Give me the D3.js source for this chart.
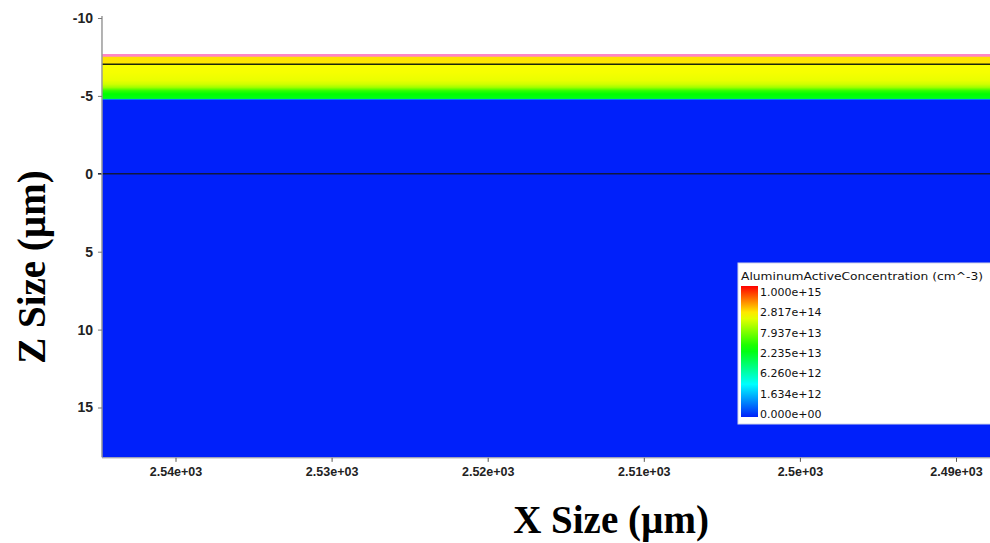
<!DOCTYPE html>
<html>
<head>
<meta charset="utf-8">
<script src="https://cdn.jsdelivr.net/npm/d3@7/dist/d3.min.js"></script>
<style>
  html, body { margin: 0; padding: 0; background: #fff; }
  svg { display: block; }
</style>
</head>
<body>
<svg id="chart" width="990" height="543"></svg>
<script>
// Axis ticks
const xTicks = [2540, 2530, 2520, 2510, 2500, 2490];
const xTickLabels = ["2.54e+03", "2.53e+03", "2.52e+03", "2.51e+03", "2.5e+03", "2.49e+03"];
const zTicks = [-10, -5, 0, 5, 10, 15];
const zTickLabels = ["-10", "-5", "0", "5", "10", "15"];

// Colour legend (top to bottom)
const legendValues = [1e15, 2.817e14, 7.937e13, 2.235e13, 6.26e12, 1.634e12, 0];
const legendLabels = ["1.000e+15", "2.817e+14", "7.937e+13", "2.235e+13", "6.260e+12", "1.634e+12", "0.000e+00"];

// Active Al concentration (cm^-3) versus depth z (µm)
const profileDepth = [-7.58, -7.06, -7.02, -6.5, -6.0, -5.75, -5.55, -5.33, -5.12, -4.84, -4.79, -4.74];
const profileConc  = [2.3e14, 2.2e14, 1.8e14, 1.75e14, 1.6e14, 1.3e14, 9e13, 3.7e13, 2.6e13, 2.2e13, 1.6e12, 0];

// Material boundaries (µm)
const surfaceZ = -7.6;
const interfaceZ = -7.03;
const referenceZ = 0;

// Domain extents
const xDomain = [2544.71, 2487.82];
const zDomain = [-10, 18.2];

const svg = d3.select("#chart");

const x = d3.scaleLinear().domain([2540, 2490]).range([175.5, 956]);
const z = d3.scaleLinear().domain([-10, 15]).range([18, 407.5]);

// Colour map: fraction along colorbar (0 top .. 1 bottom) -> rainbow
const rainbow = d3.scaleLinear()
  .domain([0, 0.22, 0.48, 0.75, 1])
  .range(["#ff0000", "#ffff00", "#00ff00", "#00ffff", "#0020fa"])
  .interpolate(d3.interpolateRgb);

// Concentration -> fraction: log-spaced between labelled values, linear below the lowest
const n = legendValues.length - 1;
const logPart = d3.scaleLinear()
  .domain(legendValues.slice(0, n).map(v => Math.log10(v)).reverse())
  .range(d3.range(n).map(i => i / n).reverse())
  .clamp(true);
function concToT(v) {
  const low = legendValues[n - 1];
  if (v <= 0) return 1;
  if (v < low) return 1 - (v / low) * (1 / n);
  return logPart(Math.log10(v));
}
const color = v => rainbow(concToT(v));

// Plot area
const x0 = x(xDomain[0]), x1 = x(xDomain[1]);
const zTopPx = z(surfaceZ), zBotPx = z(zDomain[1]);

const defs = svg.append("defs");
const grad = defs.append("linearGradient")
  .attr("id", "profile")
  .attr("gradientUnits", "userSpaceOnUse")
  .attr("x1", 0).attr("x2", 0)
  .attr("y1", zTopPx).attr("y2", zBotPx);
profileDepth.forEach((d, i) => {
  grad.append("stop")
    .attr("offset", (z(d) - zTopPx) / (zBotPx - zTopPx))
    .attr("stop-color", color(profileConc[i]));
});

svg.append("rect")
  .attr("x", x0).attr("y", zTopPx)
  .attr("width", x1 - x0).attr("height", zBotPx - zTopPx)
  .attr("fill", "url(#profile)");

// Boundary lines
svg.append("line")
  .attr("x1", x0).attr("x2", x1)
  .attr("y1", z(surfaceZ)).attr("y2", z(surfaceZ))
  .attr("stroke", "#ff86c6").attr("stroke-width", 2.6);
svg.append("line")
  .attr("x1", x0).attr("x2", x1)
  .attr("y1", z(interfaceZ)).attr("y2", z(interfaceZ))
  .attr("stroke", "#1c2608").attr("stroke-width", 1.6);
svg.append("line")
  .attr("x1", x0 - 4).attr("x2", x1)
  .attr("y1", z(referenceZ)).attr("y2", z(referenceZ))
  .attr("stroke", "#101840").attr("stroke-width", 1.4);

// Axes
const xAxis = d3.axisBottom(x).tickValues(xTicks)
  .tickFormat((d, i) => xTickLabels[i]).tickSize(4).tickPadding(5);
const gx = svg.append("g").attr("transform", `translate(0,${zBotPx + 0.5})`).call(xAxis);
gx.select(".domain").attr("d", `M${x0},0H${x1}`).attr("stroke", "#9a9a9a");
gx.selectAll(".tick line").attr("stroke", "#555");
gx.selectAll(".tick text")
  .attr("font-family", "Liberation Sans, Arial, sans-serif")
  .attr("font-weight", "bold").attr("font-size", 12.5).attr("fill", "#222");

const zAxis = d3.axisLeft(z).tickValues(zTicks)
  .tickFormat((d, i) => zTickLabels[i]).tickSize(4).tickPadding(5);
const gz = svg.append("g").attr("transform", `translate(${x0},0)`).call(zAxis);
gz.select(".domain").attr("d", `M0,${z(-10) - 2}V${zBotPx}`).attr("stroke", "#9a9a9a").attr("stroke-width", 1.5);
gz.selectAll(".tick line").attr("stroke", "#777");
gz.selectAll(".tick text")
  .attr("font-family", "Liberation Sans, Arial, sans-serif")
  .attr("font-weight", "bold").attr("font-size", 14).attr("fill", "#222");

// Axis titles
svg.append("text")
  .attr("x", 611).attr("y", 533)
  .attr("text-anchor", "middle")
  .attr("font-family", "Liberation Serif, Times New Roman, serif")
  .attr("font-weight", "bold").attr("font-size", 39).attr("fill", "#000")
  .text("X Size (µm)");
svg.append("text")
  .attr("transform", "translate(45,267) rotate(-90)")
  .attr("text-anchor", "middle")
  .attr("font-family", "Liberation Serif, Times New Roman, serif")
  .attr("font-weight", "bold").attr("font-size", 39).attr("fill", "#000")
  .text("Z Size (µm)");

// Legend
const lg = svg.append("g");
lg.append("rect")
  .attr("x", 738).attr("y", 263).attr("width", 260).attr("height", 161)
  .attr("fill", "#fff").attr("stroke", "#d0d4e8").attr("stroke-width", 1);
lg.append("text")
  .attr("x", 741).attr("y", 280)
  .attr("font-family", "DejaVu Sans, Verdana, sans-serif")
  .attr("font-size", 11).attr("fill", "#111")
  .attr("textLength", 242).attr("lengthAdjust", "spacingAndGlyphs")
  .text("AluminumActiveConcentration (cm^-3)");

const barTop = 286, barBot = 417;
const cgrad = defs.append("linearGradient")
  .attr("id", "cbar").attr("x1", 0).attr("x2", 0).attr("y1", 0).attr("y2", 1);
d3.range(0, 1.0001, 0.05).forEach(t => {
  cgrad.append("stop").attr("offset", t).attr("stop-color", rainbow(t));
});
lg.append("rect")
  .attr("x", 741).attr("y", barTop).attr("width", 17).attr("height", barBot - barTop)
  .attr("fill", "url(#cbar)");

const ly = d3.scalePoint().domain(legendLabels).range([barTop + 6, barBot - 3]);
lg.selectAll("text.lbl").data(legendLabels).join("text")
  .attr("class", "lbl")
  .attr("x", 760).attr("y", d => ly(d))
  .attr("dy", "0.35em")
  .attr("font-family", "DejaVu Sans, Verdana, sans-serif")
  .attr("font-size", 11).attr("fill", "#111")
  .text(d => d);
</script>
</body>
</html>
